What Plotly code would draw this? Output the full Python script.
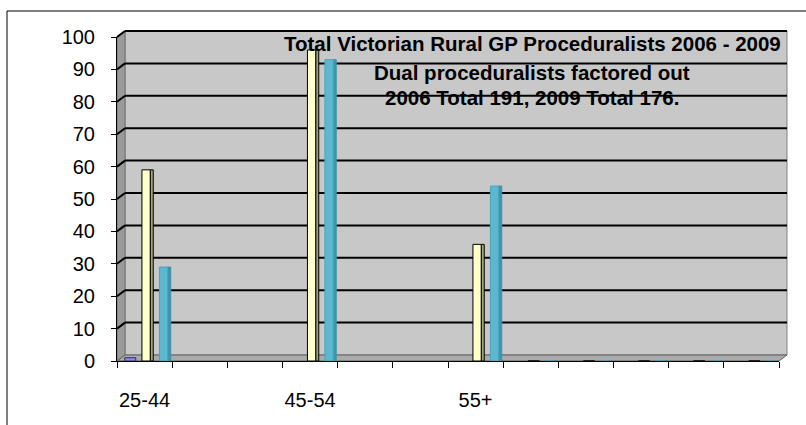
import plotly.graph_objects as go

# ---- data ----
categories = ["25-44", "", "", "45-54", "", "", "55+", "", "", "", "", ""]
series_a = [1, None, None, None, None, None, None, None, None, None, None, None]
gp_2006 = [59, None, None, 96, None, None, 36, 0, 0, 0, 0, 0]
gp_2009 = [29, None, None, 93, None, None, 54, 0, 0, 0, 0, 0]
y_ticks = [0, 10, 20, 30, 40, 50, 60, 70, 80, 90, 100]
title_lines = [
    "Total Victorian Rural GP Proceduralists 2006 - 2009",
    "Dual proceduralists factored out",
    "2006 Total 191, 2009 Total 176.",
]

W, H = 806, 425
L, R, T, B = 117, 779, 37, 361  # front frame of the plot area (pixels)
x = list(range(len(categories)))

def px(p):
    return (p - L) / (R - L)

def py(p):
    return (B - p) / (B - T)

def yval_px(v):
    return B - v / 100 * (B - T)

DX, DY = 8, -6  # depth offset of back wall

fig = go.Figure()

bw = 0.15
sw = 0.055
# series A
fig.add_trace(go.Bar(x=x, y=series_a, name="Series1", width=bw + 0.05, offset=-0.36,
                     marker=dict(color="#8C8CE6", line=dict(color="#2E2E6B", width=1))))
# 2006 side + front
fig.add_trace(go.Bar(x=x, y=gp_2006, name="2006 side", width=sw, offset=-0.048 + bw,
                     marker=dict(color="#A3A37A", line=dict(color="#000000", width=1)),
                     hoverinfo="skip", showlegend=False))
fig.add_trace(go.Bar(x=x, y=gp_2006, name="2006", width=bw, offset=-0.048,
                     marker=dict(color="#FFFFCC", line=dict(color="#000000", width=1))))
# 2009 side + front
fig.add_trace(go.Bar(x=x, y=gp_2009, name="2009 side", width=sw, offset=0.269 + bw,
                     marker=dict(color="#3F93A8", line=dict(color="#3F93A8", width=1)),
                     hoverinfo="skip", showlegend=False))
fig.add_trace(go.Bar(x=x, y=gp_2009, name="2009", width=bw, offset=0.269,
                     marker=dict(color="#5BB8D0", line=dict(color="#4AA3BA", width=1))))

shapes = []
# chart border
shapes.append(dict(type="rect", xref="paper", yref="paper",
                   x0=px(7), x1=px(W + 10), y0=py(11), y1=py(H + 10),
                   line=dict(color="#000000", width=1), fillcolor="rgba(0,0,0,0)",
                   layer="below"))
# back wall
shapes.append(dict(type="rect", xref="paper", yref="paper",
                   x0=px(L + DX), x1=px(R + DX), y0=py(B + DY), y1=py(T + DY),
                   line=dict(color="#808080", width=1), fillcolor="#C8C8C8", layer="below"))
# left wall
shapes.append(dict(type="path", xref="paper", yref="paper",
                   path=f"M{px(L)},{py(T)} L{px(L+DX)},{py(T+DY)} L{px(L+DX)},{py(B+DY)} L{px(L)},{py(B)} Z",
                   line=dict(color="#707070", width=1), fillcolor="#9A9A9A", layer="below"))
# floor
shapes.append(dict(type="path", xref="paper", yref="paper",
                   path=f"M{px(L)},{py(B)} L{px(L+DX)},{py(B+DY)} L{px(R+DX)},{py(B+DY)} L{px(R)},{py(B)} Z",
                   line=dict(color="#606060", width=1), fillcolor="#AAAAAA", layer="below"))
# gridlines on back wall and left wall
for v in y_ticks[1:]:
    yf = yval_px(v)
    yb = yf + DY
    shapes.append(dict(type="line", xref="paper", yref="paper",
                       x0=px(L + DX), x1=px(R + DX), y0=py(yb), y1=py(yb),
                       line=dict(color="#000000", width=2), layer="below"))
    shapes.append(dict(type="line", xref="paper", yref="paper",
                       x0=px(L), x1=px(L + DX), y0=py(yf), y1=py(yb),
                       line=dict(color="#000000", width=2), layer="below"))

annotations = []
title_y = [43.5, 72, 97]
for txt, yy in zip(title_lines, title_y):
    annotations.append(dict(text=f"<b>{txt}</b>", x=px(532), y=py(yy), xref="paper", yref="paper",
                            xanchor="center", yanchor="middle", showarrow=False,
                            font=dict(family="Liberation Sans, Arial, sans-serif", size=20.5, color="#000000")))

tick_idx = [i for i, c in enumerate(categories) if c]
fig.update_layout(
    width=W, height=H,
    margin=dict(l=L, r=W - R, t=T, b=H - B, pad=0),
    paper_bgcolor="#FFFFFF", plot_bgcolor="rgba(0,0,0,0)",
    barmode="overlay", showlegend=False,
    font=dict(family="Liberation Sans, Arial, sans-serif", size=20, color="#000000"),
    shapes=shapes, annotations=annotations,
    xaxis=dict(range=[-0.5, len(categories) - 0.5], tickmode="array",
               tickvals=tick_idx, ticktext=[categories[i] for i in tick_idx],
               ticks="", showgrid=False, zeroline=False,
               showline=True, linecolor="#000000", linewidth=1,
               ticklabelstandoff=21,
               minor=dict(tick0=-0.5, dtick=1, ticks="outside", ticklen=6,
                          tickcolor="#000000", tickwidth=1, showgrid=False)),
    yaxis=dict(range=[0, 100], tickmode="array", tickvals=y_ticks,
               ticks="outside", ticklen=5, tickcolor="#000000",
               showgrid=False, zeroline=False,
               showline=True, linecolor="#000000", linewidth=1,
               ticklabelstandoff=12),
)

fig.write_html("out.html", config={"displayModeBar": False},
               post_script="document.body.style.margin='0';document.body.style.overflow='hidden';")
